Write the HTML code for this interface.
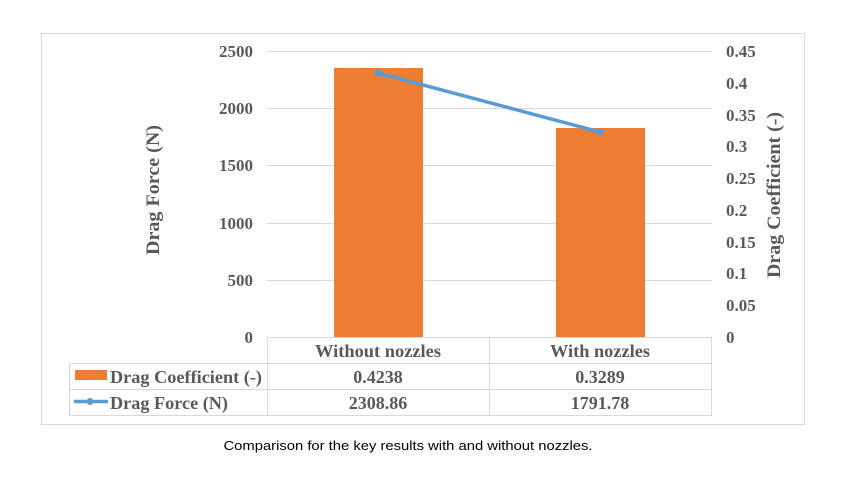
<!DOCTYPE html>
<html><head><style>
body{margin:0;background:#fff;width:847px;height:479px;overflow:hidden}
</style></head><body>
<svg width="847" height="479" xmlns="http://www.w3.org/2000/svg">
<rect x="41.5" y="33.5" width="763" height="391" fill="#fff" stroke="#d9d9d9"/>
<g stroke="#d9d9d9" stroke-width="1">
<line x1="267" y1="51.5" x2="712" y2="51.5"/>
<line x1="267" y1="108.5" x2="712" y2="108.5"/>
<line x1="267" y1="165.5" x2="712" y2="165.5"/>
<line x1="267" y1="223.5" x2="712" y2="223.5"/>
<line x1="267" y1="280.5" x2="712" y2="280.5"/>
<line x1="267" y1="337.5" x2="712" y2="337.5"/>
<line x1="69" y1="363.5" x2="712" y2="363.5"/>
<line x1="69" y1="389.5" x2="712" y2="389.5"/>
<line x1="69" y1="415.5" x2="712" y2="415.5"/>
<line x1="267.5" y1="337" x2="267.5" y2="415"/>
<line x1="489.5" y1="337" x2="489.5" y2="415"/>
<line x1="711.5" y1="337" x2="711.5" y2="415"/>
<line x1="69.5" y1="363" x2="69.5" y2="415"/>
</g>
<rect x="334" y="68" width="89" height="269" fill="#ed7d31"/>
<rect x="556" y="128" width="89" height="209" fill="#ed7d31"/>
<polyline points="378,73 600,132" stroke="#5b9bd5" stroke-width="3.5" fill="none"/>
<circle cx="378" cy="73" r="3.5" fill="#5b9bd5"/>
<circle cx="600" cy="132" r="3.5" fill="#5b9bd5"/>
<g font-family="Liberation Serif,serif" font-weight="bold" font-size="17" fill="#595959">
<g text-anchor="end">
<text x="253" y="57">2500</text><text x="253" y="114">2000</text><text x="253" y="171">1500</text>
<text x="253" y="229">1000</text><text x="253" y="286">500</text><text x="253" y="343">0</text>
</g>
<g>
<text x="726" y="57">0.45</text><text x="726" y="89">0.4</text><text x="726" y="121">0.35</text>
<text x="726" y="152">0.3</text><text x="726" y="184">0.25</text><text x="726" y="216">0.2</text>
<text x="726" y="248">0.15</text><text x="726" y="279">0.1</text><text x="726" y="311">0.05</text>
<text x="726" y="343">0</text>
</g>
<text transform="translate(159,190) rotate(-90)" text-anchor="middle" font-size="19" textLength="130" lengthAdjust="spacingAndGlyphs">Drag Force (N)</text>
<text transform="translate(780,195) rotate(-90)" text-anchor="middle" font-size="19" textLength="166" lengthAdjust="spacingAndGlyphs">Drag Coefficient (-)</text>
<g text-anchor="middle" font-size="18">
<text x="378" y="357" textLength="126" lengthAdjust="spacingAndGlyphs">Without nozzles</text><text x="600" y="357" textLength="100" lengthAdjust="spacingAndGlyphs">With nozzles</text>
<text x="378" y="383">0.4238</text><text x="600" y="383">0.3289</text>
<text x="378" y="409">2308.86</text><text x="600" y="409">1791.78</text>
</g>
<text x="110" y="383" font-size="18" textLength="152" lengthAdjust="spacingAndGlyphs">Drag Coefficient (-)</text>
<text x="110" y="409" font-size="18" textLength="118" lengthAdjust="spacingAndGlyphs">Drag Force (N)</text>
</g>
<rect x="75" y="370" width="32" height="10" fill="#ed7d31"/>
<line x1="74" y1="401.5" x2="108" y2="401.5" stroke="#5b9bd5" stroke-width="3.5"/>
<circle cx="90" cy="401.5" r="3.5" fill="#5b9bd5"/>
<text x="408" y="450" text-anchor="middle" font-family="Liberation Sans,sans-serif" font-size="13" fill="#000" textLength="369" lengthAdjust="spacingAndGlyphs">Comparison for the key results with and without nozzles.</text>
</svg>
</body></html>
